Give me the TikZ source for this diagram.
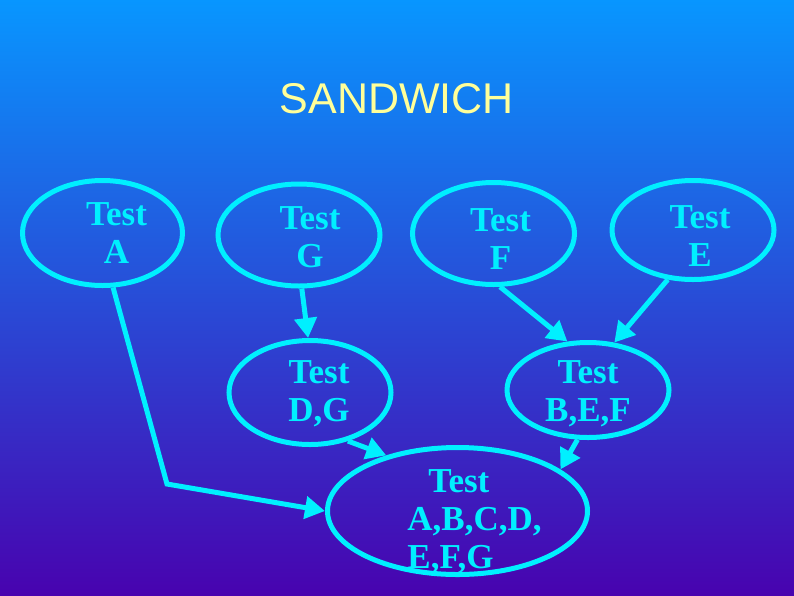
\documentclass[tikz,border=0pt]{standalone}
\usepackage{fontspec}
\setmainfont{Liberation Serif}
\newfontfamily\titlefont{Liberation Sans}
\usetikzlibrary{shapes.geometric,arrows.meta}
\definecolor{ovalcyan}{RGB}{0,240,255}
\definecolor{titleyellow}{RGB}{255,255,153}
\definecolor{bgtop}{RGB}{8,150,255}
\definecolor{bgmid}{RGB}{50,95,220}
\definecolor{bgbot}{RGB}{72,3,175}
% text of an oval: #2 pushes it right (by half), #3 = first baseline above centre
\newcommand{\ovaltext}[4][c]{\hspace*{#2}\raisebox{#3}[0pt][0pt]{\begin{tabular}[t]{@{}#1@{}}#4\end{tabular}}}
\begin{document}
\begin{tikzpicture}[x=1pt, y=-1pt,
  every node/.style={font=\fontsize{35}{38}\selectfont\bfseries, text=ovalcyan},
  test/.style={ellipse, draw=ovalcyan, line width=5pt, inner sep=0pt, minimum width=162pt, minimum height=102pt},
  link/.style={draw=ovalcyan, line width=5pt, -{Triangle[length=20pt, width=22pt]}}
]
\useasboundingbox (0,0) rectangle (794,595);
\shade[top color=bgtop, middle color=bgmid, bottom color=bgbot] (0,0) rectangle (794,595);
\node[font=\titlefont\fontsize{43}{50}\selectfont, text=titleyellow, anchor=base] (title) at (397,113) {SANDWICH};
% single tests
\node[test, minimum width=160pt, minimum height=105pt] (A) at (102.5,233) {\ovaltext{28pt}{8pt}{Test\\A}};
\node[test] (G) at (299,235) {\ovaltext{22pt}{6pt}{Test\\G}};
\node[test] (F) at (493.5,233.5) {\ovaltext{14pt}{2pt}{Test\\F}};
\node[test, minimum height=99pt] (E) at (693,230) {\ovaltext{14pt}{2pt}{Test\\E}};
% pairs and triples
\node[test, minimum height=104pt] (DG) at (310,392.5) {\ovaltext{18pt}{9pt}{Test\\D,G}};
\node[test, minimum height=95pt] (BEF) at (588,390) {\ovaltext{0pt}{7pt}{Test\\B,E,F}};
% everything
\node[test, minimum width=260pt, minimum height=127pt] (all) at (457.5,511)
  {\ovaltext[l]{34pt}{19pt}{\hspace*{21pt}Test\\A,B,C,D,\\E,F,G}};
\coordinate (bend) at (167,484);
% arrows
\draw[link] (G.273) -- (DG.92);
\draw[link] (F.277) -- (BEF.113);
\draw[link] (E.243) -- (BEF.61);
\draw[link] (DG.308) -- (all.142);
\draw[link] (BEF.258) -- (all.22);
\draw[link] (A.281) -- (bend) -- (all.west);
\end{tikzpicture}
\end{document}
